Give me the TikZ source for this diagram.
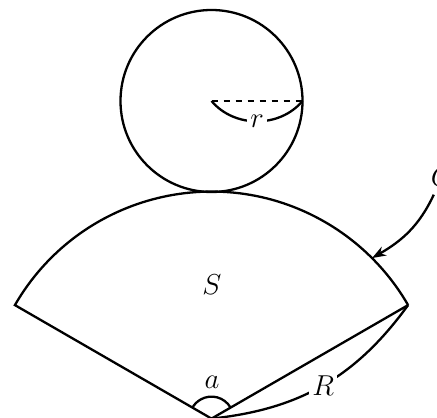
\documentclass[tikz,border=0pt]{standalone}
\usetikzlibrary{arrows.meta,calc}
\begin{document}
\begin{tikzpicture}[x=0.5pt,y=0.5pt,line width=1.15pt,
  every node/.style={font=\Large},
  lbl/.style={fill=white,inner sep=1.5pt}]
\useasboundingbox (0,0) rectangle (437,417);
% circle
\coordinate (O) at (211.5,316);
\coordinate (E) at (302.5,316);
\draw (O) circle[radius=91];
\draw[dashed] (O) -- (E);
\draw (O) to[bend right=50] node[lbl] (r) {$r$} (E);
% sector
\coordinate (A) at (211.5,-1.6);
\coordinate (L) at ($(A)+(150:227)$);
\coordinate (Rc) at ($(A)+(30:227)$);
\coordinate (P) at ($(A)+(45:227)$);
\draw (Rc) -- (A) -- (L) arc[start angle=150,end angle=30,radius=227];
\node (S) at (212,132) {$S$};
% angle a
\draw ($(A)+(30:22)$) arc[start angle=30,end angle=150,radius=22];
\node (a) at (212,35) {$a$};
% R
\draw (A) to[bend right=24] node[lbl] (R) {$R$} (Rc);
% C
\node (C) at (442,240) {$C$};
\draw[-{Stealth[length=7pt,width=5pt]}] (C) to[out=-115,in=30] (P);
\end{tikzpicture}
\end{document}
